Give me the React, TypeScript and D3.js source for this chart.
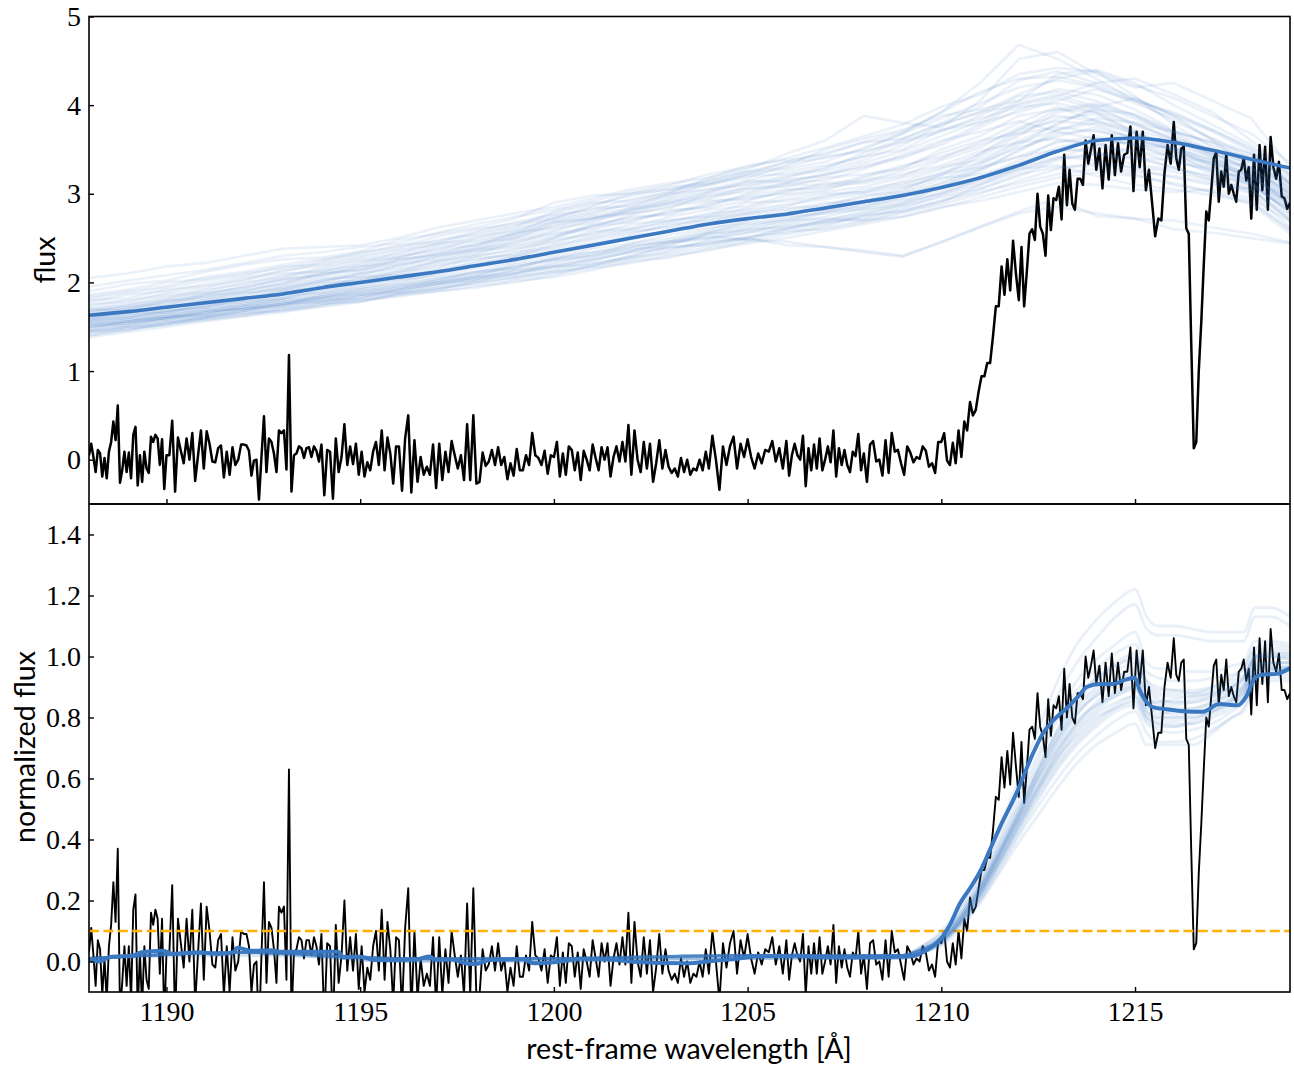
import * as d3 from "d3";
import React, { useRef, useEffect } from "react";

const xTicks = [1190, 1195, 1200, 1205, 1210, 1215];
const fluxTicks = [0, 1, 2, 3, 4, 5];
const normTicks = [0, 0.2, 0.4, 0.6, 0.8, 1.0, 1.2, 1.4];
const threshold = 0.1;

const chunkStarts = [1188, 1190, 1192, 1194, 1196, 1198, 1200, 1202, 1204, 1206, 1208, 1210, 1212, 1214, 1216, 1218];
const flux1188 = [.05,.18,.03,-.14,.11,.07,-.19,.02,-.21,.09,.2,.43,.22,.61,-.26,-.12,.09,-.14,.08,-.21,.28,.37,-.29,.05,-.25,.09,-.1,-.15,.26,.2,.28,.24,-.06,.23,-.33];
const flux1190 = [.05,.05,.44,-.36,.25,.1,-.04,.24,0,.3,-.24,.05,.33,-.1,.32,.18,-.02,-.03,.13,.16,-.2,.09,-.17,.14,-.06,0,.17];
const flux1192 = [.17,.16,.1,-.18,-.01,0,-.45,.03,.49,-.14,.24,.2,.07,-.14,.33,.3,.33,-.11,1.18,-.36,.05,.07,.15,.13,.02,.13,.14,.03,.15,.1,-.02];
const flux1194 = [.17,-.4,.11,.09,-.44,.24,-.14,.03,.4,-.06,.15,-.05,.18,-.17,.09,-.19,-.03,-.12,.09,.2,-.06,.33,-.12,.25,.07,-.27,.15];
const flux1196 = [.15,-.35,.24,.5,-.37,.22,-.25,.03,-.17,-.08,-.17,.17,-.32,.18,-.23,.09,-.14,.21,.05,-.1,.05,-.23,.4,-.23,.5];
const flux1198 = [-.27,-.25,.08,-.07,-.02,.11,-.06,.14,-.06,.03,-.22,-.04,-.18,.12,-.12,-.12,.05,-.06,.3,.05,.02,-.06,.1,-.16,.05];
const flux1200 = [.03,.2,-.19,.07,-.17,.15,.11,-.12,.08,-.23,.1,0,-.12,.17,.02,-.12,.14,0,.14,-.19,.03,.15,-.02,.2,-.02,.39];
const flux1202 = [-.17,.33,0,-.14,.2,-.1,.18,-.25,-.04,.22,-.1,.11,-.08,-.15,-.1,-.19,.02,-.14,0,-.17,-.1,-.12,0,-.12,.09];
const flux1204 = [-.1,.27,0,-.34,.15,-.06,.15,.26,-.1,.18,.03,.23,.03,-.1,.07,-.04,.11,.09,.21,-.02,.13,-.1];
const flux1206 = [.21,-.18,.05,.18,.05,0,.27,-.3,.13,-.12,.17,-.1,.24,-.12,0,.15,-.03,.33,-.19,.13,-.06,.11,-.06,-.14,.09,.04,.29,-.12];
const flux1208 = [.07,-.25,.17,.21,-.02,0,-.18,.22,-.15,.3,.09,.11,-.04,-.17,.15,.08,-.03,.03,.01,.15,.1,-.08,-.04,-.15,.2];
const flux1210 = [.2,.3,-.01,-.06,.19,-.04,.33,.03,.43,.33,.65,.5,.56,.77,.94,.94,1.09,1.09,1.39,1.73,1.73,2.18,1.86,2.26,1.91,2.47,2.1];
const flux1212 = [1.8,2.4,1.73,2.12,2.55,2.6,2.48,3.0,2.63,2.55,2.3,2.98,2.59,2.95,2.93,3.08,2.71,3.44,2.87,3.27,2.89,2.82,3.17,3.17,3.1,3.6,3.34,3.5,3.66];
const flux1214 = [3.27,3.51,3.06,3.55,3.16,3.66,3.21,3.57,3.25,3.44,3.46,3.76,3.03,3.7,3.3,3.7,3.04,3.27,2.9,2.52,2.72,2.7,3.23,3.55,3.34];
const flux1216 = [3.81,3.4,3.27,3.51,3.53,2.61,2.55,1.3,.13,.2,1.0,1.55,2.2,2.8,2.7,3.04,3.4,3.47,2.91,3.25,3.08,3.45,3.0,3.1,3.0,2.91,3.25,3.27,3.4,3.15,3.3];
const flux1218 = [2.72,3.44,2.82,3.55,3.04,3.53,2.82,3.64,3.3,3.17,3.36,2.97,2.95,2.83,2.9];
const fluxChunks = [flux1188, flux1190, flux1192, flux1194, flux1196, flux1198, flux1200, flux1202, flux1204, flux1206, flux1208, flux1210, flux1212, flux1214, flux1216, flux1218];

// same spectrum
const norm1188 = [.03,.11,.02,-.08,.07,.04,-.11,.01,-.13,.05,.12,.26,.13,.37,-.16,-.07,.05,-.08,.05,-.13,.17,.22,-.17,.03,-.15,.05,-.06,-.09,.16,.12,.17,.14,-.04,.14,-.2];
const norm1190 = [.03,.03,.25,-.2,.14,.06,-.02,.14,0,.17,-.14,.03,.19,-.06,.18,.1,-.01,-.02,.07,.09,-.11,.05,-.1,.08,-.03,0,.1];
const norm1192 = [.09,.09,.05,-.1,-.01,0,-.24,.02,.26,-.07,.13,.11,.04,-.07,.18,.16,.18,-.06,.63,-.19,.03,.04,.08,.07,.01,.07,.07,.02,.08,.05,-.01];
const norm1194 = [.09,-.2,.06,.05,-.22,.12,-.07,.02,.2,-.03,.08,-.03,.09,-.09,.05,-.1,-.02,-.06,.05,.1,-.03,.17,-.06,.13,.04,-.14,.08];
const norm1196 = [.07,-.16,.11,.24,-.17,.1,-.12,.01,-.08,-.04,-.08,.08,-.15,.08,-.11,.04,-.07,.1,.02,-.05,.02,-.11,.19,-.11,.24];
const norm1198 = [-.12,-.11,.04,-.03,-.01,.05,-.03,.06,-.03,.01,-.1,-.02,-.08,.05,-.05,-.05,.02,-.03,.13,.02,.01,-.03,.04,-.07,.02];
const norm1200 = [.01,.08,-.08,.03,-.07,.06,.05,-.05,.03,-.09,.04,0,-.05,.07,.01,-.05,.06,0,.06,-.08,.01,.06,-.01,.08,-.01,.16];
const norm1202 = [-.07,.13,0,-.05,.08,-.04,.07,-.1,-.02,.09,-.04,.04,-.03,-.06,-.04,-.07,.01,-.05,0,-.07,-.04,-.05,0,-.05,.04];
const norm1204 = [-.04,.1,0,-.13,.06,-.02,.06,.1,-.04,.07,.01,.09,.01,-.04,.03,-.01,.04,.03,.08,-.01,.05,-.04];
const norm1206 = [.07,-.06,.02,.06,.02,0,.09,-.11,.05,-.04,.06,-.04,.08,-.04,0,.05,-.01,.12,-.07,.05,-.02,.04,-.02,-.05,.03,.01,.1,-.04];
const norm1208 = [.02,-.09,.06,.07,-.01,0,-.06,.07,-.05,.1,.03,.04,-.01,-.06,.05,.03,-.01,.01,0,.05,.03,-.03,-.01,-.05,.07];
const norm1210 = [.06,.1,0,-.02,.06,-.01,.1,.01,.14,.1,.21,.16,.18,.24,.3,.3,.34,.34,.43,.54,.53,.67,.57,.69,.58,.75,.64];
const norm1212 = [.54,.72,.52,.63,.76,.77,.73,.88,.77,.74,.67,.86,.74,.84,.83,.87,.76,.96,.8,.91,.8,.78,.88,.88,.86,1.0,.93,.97,1.02];
const norm1214 = [.91,.97,.85,.98,.87,1.01,.88,.98,.89,.95,.95,1.03,.83,1.02,.91,1.02,.84,.9,.8,.7,.75,.75,.9,.98,.93];
const norm1216 = [1.06,.94,.92,.98,.99,.73,.71,.36,.04,.06,.29,.45,.63,.8,.77,.87,.97,.99,.84,.94,.89,.99,.87,.9,.87,.85,.95,.96,.99,.92,.96];
const norm1218 = [.81,1.03,.84,1.06,.91,1.05,.85,1.09,.98,.95,1.01,.89,.89,.86,.88];
const normChunks = [norm1188, norm1190, norm1192, norm1194, norm1196, norm1198, norm1200, norm1202, norm1204, norm1206, norm1208, norm1210, norm1212, norm1214, norm1216, norm1218];

// predicted continuum, one value per angstrom
const fluxWaves = [1188,1189,1190,1191,1192,1193,1194,1195,1196,1197,1198,1199,1200,1201,1202,1203,1204,1205,1206,1207,1208,1209,1210,1211,1212,1213,1214,1215,1216,1217,1218,1219];
const fluxMedian = [1.63,1.67,1.72,1.77,1.82,1.87,1.94,2.0,2.06,2.12,2.19,2.26,2.34,2.42,2.5,2.58,2.66,2.72,2.77,2.84,2.91,2.98,3.07,3.18,3.32,3.48,3.6,3.63,3.58,3.49,3.39,3.29];
const drawA = [2.05,2.10,2.18,2.22,2.30,2.38,2.40,2.42,2.50,2.62,2.70,2.78,2.85,2.95,3.05,3.12,3.18,3.28,3.45,3.60,3.88,3.80,3.75,4.05,4.52,4.60,4.35,4.20,4.25,4.05,3.85,3.30];
const drawB = [1.90,1.98,2.02,2.12,2.20,2.26,2.28,2.35,2.48,2.55,2.62,2.72,2.90,2.98,3.00,3.05,3.15,3.25,3.35,3.40,3.50,3.68,3.92,4.25,4.68,4.52,4.30,4.05,3.90,3.72,3.50,3.10];
const drawC = [1.38,1.44,1.50,1.56,1.62,1.66,1.74,1.80,1.86,1.92,2.02,2.10,2.22,2.32,2.38,2.40,2.44,2.50,2.42,2.40,2.36,2.30,2.45,2.62,2.78,2.85,2.78,2.72,2.70,2.62,2.55,2.45];
const drawD = [1.45,1.52,1.60,1.66,1.74,1.80,1.84,1.92,1.98,2.04,2.12,2.22,2.30,2.40,2.52,2.58,2.62,2.66,2.70,2.72,2.70,2.74,2.85,2.92,3.02,3.12,3.10,3.05,3.02,3.05,2.95,2.68];
const drawE = [1.52,1.58,1.62,1.70,1.74,1.82,1.90,1.96,2.06,2.14,2.22,2.28,2.42,2.50,2.58,2.62,2.72,2.78,2.82,2.90,2.92,3.00,3.12,3.28,3.42,3.50,3.48,3.32,3.28,3.20,3.12,2.85];
const drawF = [1.58,1.64,1.72,1.78,1.84,1.94,2.00,2.10,2.16,2.24,2.34,2.42,2.52,2.66,2.72,2.78,2.90,2.98,3.05,3.08,3.20,3.32,3.42,3.55,3.72,3.82,3.78,3.62,3.50,3.32,3.20,2.92];
const drawG = [1.62,1.70,1.80,1.84,1.92,1.98,2.06,2.12,2.24,2.34,2.42,2.56,2.62,2.72,2.84,2.96,3.05,3.10,3.18,3.30,3.42,3.50,3.72,3.85,3.98,4.02,3.92,3.78,3.60,3.45,3.28,3.02];
const drawH = [1.70,1.74,1.82,1.92,1.98,2.08,2.14,2.20,2.30,2.36,2.50,2.60,2.72,2.80,2.88,2.98,3.10,3.22,3.28,3.36,3.52,3.68,3.85,4.02,4.20,4.28,4.20,4.02,3.85,3.62,3.40,3.05];
const drawI = [1.78,1.86,1.90,1.98,2.06,2.12,2.22,2.30,2.38,2.48,2.54,2.62,2.78,2.88,2.98,3.05,3.10,3.18,3.32,3.50,3.62,3.72,3.88,3.95,4.05,4.35,4.40,4.25,4.00,3.78,3.55,3.20];
const drawJ = [1.48,1.54,1.58,1.66,1.72,1.76,1.86,1.94,2.00,2.10,2.18,2.26,2.36,2.44,2.54,2.66,2.70,2.78,2.84,2.86,2.98,3.02,3.16,3.35,3.58,3.72,3.85,3.80,3.62,3.40,3.12,2.78];
const drawK = [1.66,1.72,1.76,1.86,1.96,2.04,2.08,2.18,2.22,2.32,2.44,2.50,2.60,2.68,2.82,2.88,2.94,3.05,3.12,3.15,3.28,3.44,3.60,3.70,3.82,3.70,3.62,3.55,3.52,3.38,3.30,3.00];
const drawL = [1.55,1.60,1.68,1.72,1.82,1.90,1.94,2.04,2.12,2.18,2.30,2.38,2.46,2.58,2.62,2.74,2.82,2.86,2.98,3.02,3.08,3.18,3.30,3.38,3.60,3.78,3.98,4.08,3.88,3.60,3.30,2.98];
const drawM = [1.74,1.80,1.86,1.90,2.00,2.06,2.16,2.24,2.28,2.40,2.46,2.54,2.68,2.76,2.84,2.92,2.98,3.02,3.12,3.22,3.30,3.40,3.58,3.78,4.02,4.12,3.98,3.78,3.62,3.50,3.42,3.15];
const drawN = [1.60,1.68,1.70,1.80,1.88,1.92,2.02,2.08,2.20,2.26,2.36,2.48,2.56,2.62,2.76,2.86,2.92,2.94,3.02,3.12,3.15,3.22,3.32,3.48,3.58,3.62,3.55,3.48,3.42,3.35,3.22,2.88];
const drawO = [1.84,1.90,1.96,2.06,2.12,2.20,2.26,2.32,2.42,2.46,2.58,2.68,2.76,2.82,2.94,3.02,3.15,3.25,3.30,3.42,3.48,3.58,3.70,3.88,4.10,4.15,4.05,3.88,3.70,3.58,3.38,3.05];
const drawP = [1.68,1.72,1.78,1.82,1.90,2.00,2.10,2.14,2.20,2.28,2.38,2.44,2.58,2.70,2.78,2.84,3.00,3.06,3.08,3.18,3.22,3.28,3.50,3.65,3.88,3.95,3.92,3.70,3.52,3.38,3.22,2.95];
const drawQ = [1.42,1.50,1.54,1.62,1.68,1.72,1.78,1.86,1.94,2.02,2.08,2.18,2.26,2.38,2.44,2.50,2.58,2.64,2.72,2.80,2.84,2.92,3.00,3.12,3.30,3.42,3.38,3.28,3.18,3.10,3.05,2.72];
const drawR = [1.72,1.76,1.84,1.88,1.94,2.02,2.08,2.16,2.26,2.30,2.40,2.52,2.64,2.72,2.80,2.94,3.02,3.12,3.20,3.26,3.38,3.55,3.78,3.92,4.12,4.30,4.38,4.10,3.78,3.52,3.30,3.08];
const drawS = [1.56,1.62,1.66,1.74,1.78,1.84,1.98,2.02,2.10,2.20,2.26,2.32,2.48,2.54,2.66,2.70,2.76,2.90,2.92,2.96,3.05,3.12,3.22,3.30,3.42,3.58,3.65,3.55,3.40,3.22,3.08,2.82];
const drawT = [1.80,1.82,1.92,1.96,2.02,2.14,2.18,2.26,2.32,2.42,2.52,2.58,2.70,2.78,2.90,3.00,3.05,3.15,3.25,3.32,3.42,3.60,3.72,3.80,3.92,4.05,4.18,4.05,3.82,3.62,3.45,3.18];
const drawU = [1.50,1.56,1.64,1.68,1.76,1.86,1.88,1.98,2.04,2.12,2.24,2.34,2.40,2.52,2.60,2.68,2.78,2.82,2.88,2.94,3.00,3.08,3.18,3.22,3.32,3.48,3.52,3.48,3.35,3.28,3.15,2.85];
const drawV = [1.64,1.66,1.74,1.80,1.86,1.96,2.04,2.06,2.14,2.22,2.32,2.46,2.54,2.60,2.70,2.80,2.86,3.00,3.10,3.10,3.12,3.20,3.38,3.52,3.75,3.88,3.82,3.72,3.60,3.45,3.35,3.10];
const drawW = [1.95,2.02,2.08,2.14,2.22,2.30,2.34,2.40,2.44,2.56,2.66,2.74,2.82,2.92,3.02,3.10,3.22,3.30,3.40,3.52,3.65,3.78,3.98,4.12,4.35,4.42,4.38,4.22,4.08,3.88,3.68,3.35];
const drawX = [1.52,1.56,1.60,1.64,1.72,1.78,1.82,1.88,1.96,2.02,2.12,2.16,2.28,2.34,2.42,2.46,2.52,2.48,2.46,2.40,2.34,2.29,2.46,2.63,2.80,2.95,2.75,2.72,2.60,2.56,2.50,2.44];
const drawY1 = [1.40,1.46,1.54,1.58,1.64,1.70,1.76,1.80,1.84,1.90,1.96,2.00,2.08,2.20,2.30,2.42,2.55,2.58,2.64,2.70,2.78,2.86,2.96,3.06,3.22,3.30,3.32,3.25,3.20,3.12,3.00,2.62];
const drawY2 = [1.46,1.50,1.56,1.60,1.68,1.74,1.80,1.82,1.92,1.98,2.06,2.12,2.16,2.24,2.36,2.46,2.50,2.60,2.68,2.78,2.88,2.94,3.05,3.18,3.38,3.60,3.58,3.42,3.30,3.15,3.02,2.70];
const drawY3 = [1.54,1.58,1.62,1.68,1.70,1.76,1.84,1.90,1.94,2.00,2.08,2.20,2.26,2.30,2.44,2.54,2.60,2.70,2.80,2.82,2.86,3.00,3.08,3.25,3.50,3.68,3.72,3.58,3.45,3.25,3.10,2.80];
const drawY4 = [1.60,1.62,1.68,1.74,1.80,1.88,1.92,2.00,2.04,2.08,2.16,2.24,2.34,2.44,2.48,2.60,2.68,2.76,2.78,2.88,2.96,3.06,3.20,3.42,3.65,3.92,4.00,3.85,3.68,3.42,3.18,2.88];
const drawY5 = [1.48,1.56,1.62,1.64,1.70,1.74,1.82,1.86,1.90,1.98,2.04,2.14,2.20,2.28,2.40,2.48,2.56,2.68,2.74,2.78,2.82,2.88,3.02,3.15,3.28,3.40,3.45,3.40,3.38,3.25,3.18,2.92];
const drawY6 = [1.76,1.78,1.88,1.94,2.04,2.10,2.12,2.22,2.34,2.44,2.48,2.56,2.74,2.84,2.86,3.00,3.12,3.20,3.22,3.28,3.46,3.62,3.80,3.98,4.28,4.38,4.25,4.08,3.88,3.70,3.48,3.12];
const drawY7 = [1.86,1.92,2.00,2.04,2.10,2.16,2.24,2.34,2.40,2.52,2.60,2.66,2.72,2.86,3.00,3.08,3.12,3.22,3.36,3.46,3.58,3.62,3.78,3.92,4.00,4.10,4.25,4.30,4.12,3.92,3.60,3.22];
const drawY8 = [1.66,1.70,1.74,1.84,1.88,1.94,2.02,2.10,2.18,2.30,2.36,2.40,2.50,2.64,2.74,2.76,2.88,2.96,3.00,3.04,3.18,3.30,3.46,3.60,3.68,3.75,3.70,3.65,3.58,3.48,3.38,3.12];
const drawY9 = [1.44,1.48,1.52,1.60,1.66,1.68,1.72,1.78,1.88,1.94,2.00,2.06,2.12,2.18,2.28,2.36,2.48,2.56,2.60,2.66,2.74,2.82,2.92,3.02,3.12,3.22,3.28,3.22,3.10,3.02,2.92,2.58];
const drawY10 = [1.58,1.66,1.66,1.76,1.80,1.92,1.96,2.06,2.08,2.16,2.28,2.30,2.44,2.56,2.60,2.70,2.74,2.84,2.94,3.00,3.02,3.14,3.28,3.45,3.68,3.85,3.90,3.68,3.48,3.30,3.12,2.90];
const drawY11 = [1.70,1.68,1.78,1.86,1.90,1.98,2.10,2.14,2.26,2.32,2.38,2.50,2.66,2.74,2.78,2.90,3.02,3.14,3.14,3.22,3.35,3.48,3.65,3.82,4.05,4.18,4.12,3.95,3.72,3.55,3.35,3.02];
const drawY12 = [1.62,1.66,1.72,1.76,1.82,1.90,2.00,2.02,2.12,2.24,2.30,2.36,2.50,2.64,2.68,2.82,2.84,2.92,3.04,3.06,3.14,3.26,3.40,3.58,3.80,3.98,3.82,3.68,3.55,3.42,3.25,2.98];
const drawY13 = [1.82,1.88,1.94,2.02,2.08,2.18,2.20,2.28,2.36,2.44,2.56,2.64,2.80,2.90,2.92,3.02,3.18,3.32,3.38,3.44,3.58,3.70,3.92,4.15,4.30,4.32,4.22,4.05,3.92,3.72,3.52,3.22];
const drawY14 = [1.50,1.54,1.60,1.62,1.68,1.76,1.78,1.84,1.92,2.00,2.06,2.10,2.18,2.26,2.34,2.44,2.54,2.60,2.62,2.68,2.76,2.80,2.90,3.10,3.28,3.32,3.20,3.10,3.05,2.98,2.90,2.60];
const drawY15 = [1.68,1.74,1.80,1.88,1.94,2.04,2.12,2.18,2.28,2.38,2.42,2.54,2.68,2.72,2.82,2.90,2.96,3.08,3.16,3.20,3.32,3.42,3.55,3.75,3.95,4.08,3.95,3.80,3.70,3.58,3.45,3.12];
const drawY16 = [1.56,1.60,1.64,1.72,1.76,1.82,1.92,2.00,2.08,2.12,2.20,2.30,2.38,2.48,2.56,2.64,2.74,2.80,2.86,2.98,3.02,3.10,3.24,3.35,3.52,3.65,3.75,3.62,3.48,3.35,3.18,2.95];
const drawZ1 = [1.46,1.50,1.56,1.62,1.66,1.72,1.78,1.82,1.88,1.94,1.98,2.04,2.10,2.16,2.22,2.30,2.36,2.46,2.54,2.62,2.70,2.80,2.92,3.05,3.20,3.38,3.45,3.40,3.30,3.18,3.05,2.75];
const drawZ2 = [1.50,1.52,1.58,1.64,1.70,1.76,1.80,1.86,1.90,1.96,2.04,2.08,2.14,2.22,2.28,2.34,2.44,2.52,2.56,2.64,2.76,2.88,3.00,3.16,3.35,3.52,3.62,3.55,3.42,3.28,3.10,2.82];
const drawZ3 = [1.54,1.56,1.60,1.66,1.72,1.78,1.82,1.90,1.96,2.00,2.06,2.14,2.18,2.26,2.34,2.38,2.46,2.50,2.60,2.70,2.80,2.90,3.08,3.28,3.48,3.72,3.80,3.68,3.52,3.35,3.20,2.88];
const drawZ4 = [1.40,1.48,1.52,1.58,1.62,1.70,1.74,1.84,1.88,1.92,2.00,2.06,2.12,2.18,2.26,2.32,2.40,2.48,2.58,2.60,2.68,2.78,2.88,3.00,3.15,3.28,3.35,3.30,3.25,3.15,3.05,2.70];
const drawZ5 = [1.58,1.60,1.66,1.70,1.74,1.80,1.86,1.92,1.98,2.04,2.10,2.16,2.24,2.30,2.36,2.44,2.50,2.56,2.66,2.74,2.84,2.96,3.12,3.32,3.55,3.80,3.95,3.90,3.70,3.48,3.25,2.95];
const drawZ6 = [1.52,1.54,1.60,1.68,1.70,1.74,1.84,1.88,1.92,1.98,2.02,2.10,2.18,2.20,2.30,2.40,2.42,2.50,2.62,2.68,2.72,2.84,2.98,3.10,3.25,3.40,3.55,3.60,3.50,3.32,3.12,2.78];
const drawZ7 = [1.62,1.64,1.68,1.72,1.78,1.82,1.88,1.94,2.02,2.06,2.12,2.18,2.26,2.34,2.40,2.46,2.56,2.62,2.70,2.80,2.92,3.04,3.22,3.45,3.72,3.95,4.02,3.88,3.65,3.45,3.28,3.00];
const drawZ8 = [1.44,1.46,1.54,1.60,1.64,1.68,1.76,1.78,1.86,1.90,1.94,2.02,2.06,2.14,2.24,2.28,2.38,2.44,2.50,2.58,2.66,2.74,2.84,2.96,3.08,3.18,3.24,3.20,3.12,3.02,2.88,2.55];
const fluxDraws = [drawA, drawB, drawC, drawD, drawE, drawF, drawG, drawH, drawI, drawJ, drawK, drawL, drawM, drawN, drawO, drawP, drawQ, drawR, drawS, drawT, drawU, drawV, drawW, drawX, drawY1, drawY2, drawY3, drawY4, drawY5, drawY6, drawY7, drawY8, drawY9, drawY10, drawY11, drawY12, drawY13, drawY14, drawY15, drawY16, drawZ1, drawZ2, drawZ3, drawZ4, drawZ5, drawZ6, drawZ7, drawZ8];

// transmission curve of the lower panel
const medianWaves = [1188,1188.28,1188.54,1189.14,1189.36,1189.91,1190.17,1190.86,1191.3,1191.72,1191.83,1192.2,1192.7,1192.93,1194.43,1194.56,1194.95,1195.42,1196.03,1196.46,1196.79,1196.97,1197.32,1197.83,1198.0,1198.35,1199.2,1199.5,1200.07,1200.67,1201.36,1202.05,1203.4,1204.2,1204.62,1205.3,1206.0,1206.26,1206.8,1207.54,1208.41,1209.27,1209.52,1209.78,1210,1210.22,1210.48,1210.74,1211,1211.25,1211.51,1211.94,1212.37,1212.63,1212.9,1213.23,1213.57,1213.75,1214.09,1214.43,1214.78,1214.99,1215.12,1215.29,1215.46,1215.8,1216.32,1216.75,1217.18,1217.65,1217.87,1218.09,1218.26,1218.65,1219];
const normMedian = [.007,0,.015,.02,.03,.035,.025,.03,.025,.03,.045,.035,.037,.032,.032,.014,.016,.005,.005,.007,.016,.005,.007,-.008,-.008,.005,.007,-.006,-.002,.009,.007,-.001,-.006,.003,.007,.018,.018,.02,.014,.013,.014,.018,.03,.05,.076,.12,.19,.24,.295,.365,.44,.552,.683,.749,.792,.83,.874,.9,.91,.91,.925,.93,.89,.852,.834,.827,.82,.819,.844,.84,.869,.929,.94,.943,.962];

const normWaves = [1188,1192,1196,1200,1205,1209,1209.5,1210,1210.5,1211,1211.5,1212,1212.5,1213,1213.5,1214,1214.5,1215,1215.3,1215.6,1216,1216.5,1217,1217.5,1217.8,1218.1,1218.5,1219];
const tau1 = [.01,.03,.01,.01,.02,.02,.05,.10,.18,.30,.44,.60,.76,.92,1.04,1.12,1.18,1.22,1.13,1.10,1.10,1.09,1.08,1.08,1.08,1.16,1.16,1.13];
const tau2 = [.01,.03,.01,.01,.02,.02,.05,.09,.17,.28,.42,.57,.72,.87,.98,1.06,1.13,1.17,1.09,1.07,1.07,1.06,1.05,1.05,1.05,1.13,1.13,1.10];
const tau3 = [.01,.03,0,.01,.01,.02,.05,.09,.16,.27,.40,.54,.68,.81,.92,.99,1.04,1.08,.98,.96,.96,.95,.95,.97,.98,1.05,1.05,1.04];
const tau4 = [.01,.03,.01,0,.02,.02,.04,.08,.16,.26,.39,.52,.66,.79,.89,.96,1.01,1.04,.95,.93,.92,.92,.93,.94,.96,1.02,1.03,1.02];
const tau5 = [.01,.03,.01,.01,.02,.02,.04,.08,.15,.25,.38,.51,.64,.76,.86,.93,.98,1.01,.92,.90,.89,.89,.90,.92,.94,1.00,1.01,1.01];
const tau6 = [.01,.03,0,.01,.02,.01,.04,.08,.15,.25,.37,.50,.62,.74,.84,.90,.95,.98,.90,.87,.87,.87,.88,.90,.92,.99,1.00,.99];
const tau7 = [.01,.03,.01,0,.01,.02,.04,.07,.14,.24,.36,.48,.60,.71,.81,.87,.92,.95,.87,.85,.85,.85,.86,.88,.90,.97,.98,.98];
const tau8 = [.01,.03,.01,.01,.02,.02,.04,.07,.14,.23,.35,.47,.58,.69,.78,.85,.89,.92,.85,.83,.83,.83,.85,.87,.89,.96,.97,.97];
const tau9 = [.01,.02,.01,.01,.02,.02,.04,.07,.13,.22,.33,.45,.56,.67,.76,.82,.87,.89,.82,.80,.80,.80,.82,.85,.87,.95,.96,.96];
const tau10 = [.01,.03,.01,0,.01,.01,.03,.06,.13,.21,.32,.44,.55,.65,.73,.79,.84,.87,.80,.78,.78,.78,.80,.83,.86,.93,.95,.95];
const tau11 = [.01,.03,0,.01,.02,.02,.03,.06,.12,.20,.31,.42,.53,.63,.71,.77,.82,.84,.78,.76,.75,.76,.78,.82,.85,.93,.94,.94];
const tau12 = [.01,.03,.01,.01,.01,.01,.03,.06,.12,.20,.30,.41,.51,.60,.68,.74,.79,.82,.75,.72,.72,.73,.76,.80,.83,.92,.93,.93];
const tau13 = [.01,.02,.01,.01,.02,.02,.03,.05,.11,.19,.29,.39,.48,.57,.65,.71,.75,.78,.71,.71,.71,.71,.75,.80,.82,.91,.92,.92];
const tau14 = [.01,.03,.01,0,.02,.02,.04,.07,.14,.24,.35,.47,.61,.73,.83,.89,.93,.96,.88,.86,.85,.86,.87,.89,.91,.98,.98,.98];
const tau15 = [.01,.03,.01,.01,.01,.02,.04,.07,.13,.23,.34,.46,.57,.68,.77,.83,.88,.90,.83,.82,.81,.82,.84,.86,.88,.95,.96,.96];
const tau16 = [.01,.03,0,.01,.02,.02,.04,.08,.15,.24,.36,.49,.63,.75,.85,.92,.97,1.0,.92,.89,.89,.88,.89,.91,.93,1.0,1.0,1.0];
const tau17 = [.01,.03,.01,.01,.02,.02,.04,.07,.14,.24,.36,.49,.63,.76,.87,.93,.97,.99,.91,.88,.88,.88,.90,.93,.96,1.03,1.04,1.03];
const tau18 = [.01,.03,.01,.01,.02,.02,.04,.07,.14,.23,.35,.47,.60,.72,.81,.88,.92,.94,.87,.84,.84,.85,.87,.90,.93,1.00,1.01,1.00];
const tau19 = [.01,.03,.01,.01,.02,.02,.03,.07,.13,.22,.34,.46,.58,.69,.78,.84,.88,.91,.84,.81,.82,.83,.85,.88,.90,.97,.98,.98];
const tau20 = [.01,.03,.01,.01,.01,.02,.03,.06,.13,.22,.33,.44,.56,.66,.75,.81,.85,.87,.81,.79,.79,.80,.82,.85,.89,.96,.97,.96];
const tau21 = [.01,.03,.01,.01,.02,.01,.03,.06,.12,.21,.32,.43,.54,.64,.72,.78,.83,.85,.79,.77,.77,.78,.81,.84,.87,.95,.96,.95];
const tau22 = [.01,.03,.01,.01,.02,.02,.04,.08,.15,.25,.37,.49,.62,.73,.82,.87,.91,.93,.85,.85,.86,.87,.88,.90,.93,1.00,1.02,1.01];
const tau23 = [.01,.03,.01,.01,.02,.02,.04,.07,.13,.22,.33,.45,.57,.67,.74,.80,.83,.86,.80,.78,.77,.79,.82,.86,.90,.99,1.00,.99];
const tau24 = [.01,.03,.01,.01,.02,.02,.04,.07,.14,.23,.35,.48,.60,.70,.79,.84,.87,.90,.82,.80,.80,.81,.83,.86,.88,.94,.95,.97];
const normDraws = [tau1, tau2, tau3, tau4, tau5, tau6, tau7, tau8, tau9, tau10, tau11, tau12, tau13, tau14, tau15, tau16, tau17, tau18, tau19, tau20, tau21, tau22, tau23, tau24];

const BLUE = "#3a78c2";
const SERIF = "'Liberation Serif', serif";
const SANS = "Lato, sans-serif";

// lay each 2 A stretch out evenly over its own wavelength range
const spectrum = (chunks: number[][]) =>
    chunks.flatMap((vals, c) => {
        const w = c === chunks.length - 1 ? 1 : 2;
        const n = c === chunks.length - 1 ? vals.length - 1 : vals.length;
        return vals.map((v, i) => [chunkStarts[c] + (w * i) / n, v]);
    });

function App() {
    const ref = useRef<SVGSVGElement>(null);

    const width = 1294;
    const height = 1070;
    const left = 89;
    const right = 1290;
    const top = 16.5;
    const mid = 504;
    const bottom = 992;

    useEffect(() => {
        const svg = d3.select(ref.current);
        svg.selectAll("*").remove();

        const x = d3.scaleLinear().domain([1188, 1219]).range([left, right]);
        const yFlux = d3.scaleLinear().domain([-0.5, 5]).range([mid, top]);
        const yNorm = d3.scaleLinear().domain([-0.1, 1.5]).range([bottom, mid]);

        const defs = svg.append("defs");
        defs.append("clipPath").attr("id", "clip-top").append("rect")
            .attr("x", left).attr("y", top).attr("width", right - left).attr("height", mid - top);
        defs.append("clipPath").attr("id", "clip-bottom").append("rect")
            .attr("x", left).attr("y", mid).attr("width", right - left).attr("height", bottom - mid);

        // top panel
        const upper = svg.append("g").attr("clip-path", "url(#clip-top)");
        const fluxLine = d3.line<number[]>().x((d) => x(d[0])).y((d) => yFlux(d[1]));

        upper.append("path").datum(spectrum(fluxChunks))
            .attr("d", fluxLine).attr("fill", "none").attr("stroke", "#000").attr("stroke-width", 2.5)
            .attr("stroke-linejoin", "round");

        fluxDraws.forEach((draw) => {
            upper.append("path").datum(draw.map((v, i) => [fluxWaves[i], v]))
                .attr("d", fluxLine).attr("fill", "none").attr("stroke", BLUE)
                .attr("stroke-width", 2.6).attr("stroke-opacity", 0.1);
        });

        upper.append("path").datum(fluxMedian.map((v, i) => [fluxWaves[i], v]))
            .attr("d", fluxLine.curve(d3.curveMonotoneX)).attr("fill", "none").attr("stroke", BLUE).attr("stroke-width", 3.6);
        fluxLine.curve(d3.curveLinear);

        // bottom panel
        const lower = svg.append("g").attr("clip-path", "url(#clip-bottom)");
        const normLine = d3.line<number[]>().x((d) => x(d[0])).y((d) => yNorm(d[1]));

        lower.append("path").datum(spectrum(normChunks))
            .attr("d", normLine).attr("fill", "none").attr("stroke", "#000").attr("stroke-width", 1.9)
            .attr("stroke-linejoin", "round");

        lower.append("line")
            .attr("x1", left).attr("x2", right).attr("y1", yNorm(threshold)).attr("y2", yNorm(threshold))
            .attr("stroke", "#ffb000").attr("stroke-width", 2.5).attr("stroke-dasharray", "10 4.4");

        const smooth = d3.line<number[]>().x((d) => x(d[0])).y((d) => yNorm(d[1])).curve(d3.curveMonotoneX);
        normDraws.forEach((draw) => {
            lower.append("path").datum(draw.map((v, i) => [normWaves[i], v]))
                .attr("d", smooth).attr("fill", "none").attr("stroke", BLUE)
                .attr("stroke-width", 2.8).attr("stroke-opacity", 0.11);
        });

        lower.append("path").datum(normMedian.map((v, i) => [medianWaves[i], v]))
            .attr("d", smooth).attr("fill", "none").attr("stroke", BLUE).attr("stroke-width", 4);

        // axes
        const styleAxis = (g: any) => {
            g.selectAll("line").attr("stroke", "#000").attr("stroke-width", 1.4);
            g.select(".domain").remove();
            g.selectAll("text").attr("fill", "#000").style("font-family", SERIF).style("font-size", "28px");
        };

        svg.append("g").attr("transform", `translate(0, ${mid})`)
            .call(d3.axisBottom(x).tickValues(xTicks).tickSize(-5).tickFormat(() => ""))
            .call(styleAxis);
        svg.append("g").attr("transform", `translate(0, ${bottom})`)
            .call(d3.axisBottom(x).tickValues(xTicks).tickSize(-5).tickPadding(9).tickFormat(d3.format("d")))
            .call(styleAxis);
        svg.append("g").attr("transform", `translate(${left}, 0)`)
            .call(d3.axisLeft(yFlux).tickValues(fluxTicks).tickSize(-5).tickPadding(8).tickFormat(d3.format("d")))
            .call(styleAxis);
        svg.append("g").attr("transform", `translate(${left}, 0)`)
            .call(d3.axisLeft(yNorm).tickValues(normTicks).tickSize(-5).tickPadding(8).tickFormat(d3.format(".1f")))
            .call(styleAxis);

        // frames
        [[top, mid], [mid, bottom]].forEach(([y0, y1]) => {
            svg.append("rect")
                .attr("x", left).attr("y", y0).attr("width", right - left).attr("height", y1 - y0)
                .attr("fill", "none").attr("stroke", "#000").attr("stroke-width", 1.6);
        });

        // labels
        const label = (text: string, tx: number, ty: number, rot: number) => {
            svg.append("text")
                .attr("transform", `translate(${tx}, ${ty}) rotate(${rot})`)
                .attr("text-anchor", "middle")
                .style("font-family", SANS).style("font-size", "28.6px").attr("fill", "#000")
                .text(text);
        };
        label("flux", 55, 260, -90);
        label("normalized flux", 35, 747, -90);
        label("rest-frame wavelength [Å]", 689, 1059, 0);
    }, []);

    return (
        <svg ref={ref} width={width} height={height} style={{ position: "absolute", left: 0, top: 0, background: "#fff" }}></svg>
    );
}

export default App;
